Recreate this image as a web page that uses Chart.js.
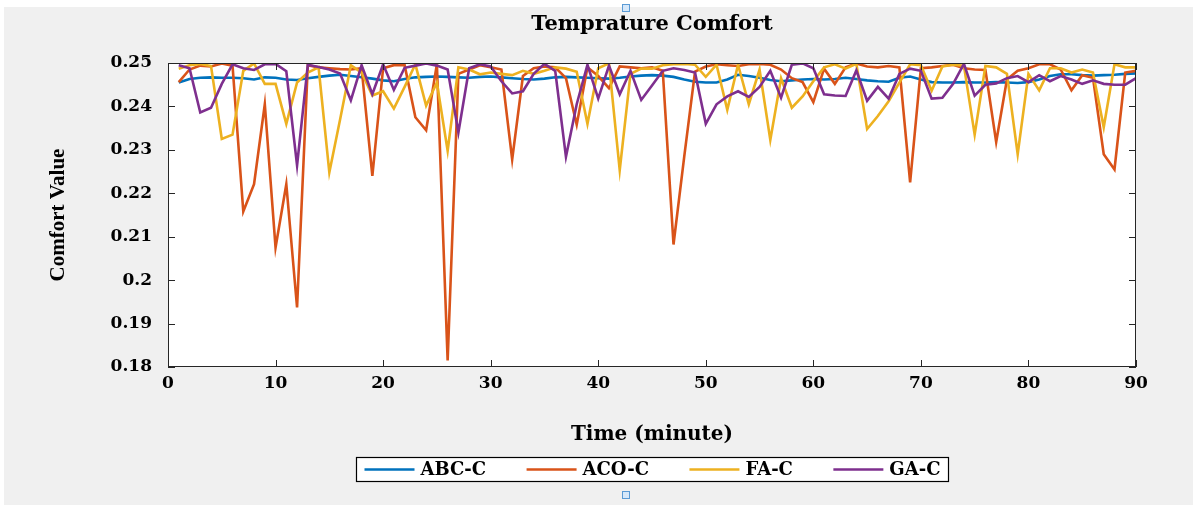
<!DOCTYPE html>
<html>
<head>
<meta charset="utf-8">
<title>Temprature Comfort</title>
<script src="https://cdn.jsdelivr.net/npm/chart.js@4.4.1/dist/chart.umd.min.js"></script>
<style>
  html, body { margin: 0; padding: 0; background: #fff; }
  #wrap { width: 1197px; height: 514px; }
</style>
</head>
<body>
<div id="wrap"><canvas id="chartLine" width="1197" height="514"></canvas></div>
<script>
// time axis (minutes)
var minutes = [1,2,3,4,5,6,7,8,9,10,11,12,13,14,15,16,17,18,19,20,
  21,22,23,24,25,26,27,28,29,30,31,32,33,34,35,36,37,38,39,40,
  41,42,43,44,45,46,47,48,49,50,51,52,53,54,55,56,57,58,59,60,
  61,62,63,64,65,66,67,68,69,70,71,72,73,74,75,76,77,78,79,80,
  81,82,83,84,85,86,87,88,89,90];

var seriesNames = ['ABC-C', 'ACO-C', 'FA-C', 'GA-C'];

var abcC = [0.2455,0.2463,0.2466,0.2467,0.2466,0.2466,0.2465,0.2462,0.2467,0.2466,
  0.2462,0.2461,0.2465,0.2468,0.2471,0.2473,0.2470,0.2467,0.2464,0.2460,
  0.2458,0.2463,0.2467,0.2468,0.2469,0.2468,0.2467,0.2466,0.2468,0.2469,
  0.2467,0.2465,0.2463,0.2462,0.2464,0.2467,0.2468,0.2467,0.2466,0.2465,
  0.2464,0.2466,0.2469,0.2471,0.2472,0.2471,0.2468,0.2462,0.2457,0.2455,
  0.2455,0.2462,0.2473,0.2470,0.2466,0.2461,0.2458,0.2460,0.2462,0.2463,
  0.2462,0.2463,0.2466,0.2463,0.2460,0.2458,0.2457,0.2466,0.2469,0.2462,
  0.2456,0.2455,0.2455,0.2456,0.2455,0.2455,0.2456,0.2455,0.2454,0.2456,
  0.2462,0.2470,0.2474,0.2474,0.2472,0.2471,0.2472,0.2473,0.2475,0.2476];

var acoC = [0.2456,0.2485,0.2494,0.2492,0.2499,0.2494,0.2158,0.2221,0.2405,0.2075,
  0.2221,0.1937,0.2495,0.2490,0.2488,0.2486,0.2485,0.2488,0.2240,0.2488,
  0.2495,0.2495,0.2375,0.2345,0.2497,0.1815,0.2475,0.2485,0.2495,0.2490,
  0.2485,0.2278,0.2470,0.2488,0.2492,0.2490,0.2465,0.2358,0.2490,0.2470,
  0.2442,0.2492,0.2490,0.2488,0.2490,0.2482,0.2082,0.2285,0.2480,0.2492,
  0.2497,0.2495,0.2493,0.2497,0.2498,0.2496,0.2485,0.2465,0.2456,0.2410,
  0.2487,0.2452,0.2490,0.2499,0.2492,0.2490,0.2493,0.2490,0.2225,0.2488,
  0.2490,0.2493,0.2496,0.2488,0.2485,0.2484,0.2318,0.2462,0.2482,0.2488,
  0.2497,0.2497,0.2485,0.2437,0.2472,0.2466,0.2290,0.2255,0.2478,0.2482];

var faC = [0.2487,0.2495,0.2498,0.2493,0.2325,0.2335,0.2482,0.2499,0.2452,0.2452,
  0.2360,0.2455,0.2478,0.2490,0.2248,0.2370,0.2495,0.2478,0.2425,0.2435,
  0.2395,0.2445,0.2497,0.2402,0.2455,0.2298,0.2490,0.2485,0.2474,0.2478,
  0.2475,0.2472,0.2482,0.2475,0.2482,0.2490,0.2487,0.2480,0.2360,0.2488,
  0.2499,0.2253,0.2475,0.2487,0.2487,0.2495,0.2497,0.2498,0.2496,0.2468,
  0.2496,0.2392,0.2496,0.2405,0.2485,0.2323,0.2465,0.2397,0.2423,0.2458,
  0.2490,0.2497,0.2487,0.2498,0.2348,0.2378,0.2412,0.2455,0.2497,0.2495,
  0.2436,0.2492,0.2496,0.2494,0.2335,0.2493,0.2490,0.2475,0.2290,0.2475,
  0.2437,0.2488,0.2488,0.2478,0.2485,0.2478,0.2352,0.2497,0.2490,0.2490];

var gaC = [0.2495,0.2488,0.2386,0.2397,0.2452,0.2497,0.2488,0.2484,0.2497,0.2498,
  0.2481,0.2264,0.2496,0.2491,0.2485,0.2476,0.2414,0.2495,0.2428,0.2497,
  0.2438,0.2489,0.2494,0.2499,0.2494,0.2485,0.2340,0.2488,0.2497,0.2492,
  0.2458,0.2430,0.2435,0.2475,0.2498,0.2482,0.2284,0.2405,0.2496,0.2418,
  0.2494,0.2428,0.2482,0.2415,0.2448,0.2482,0.2488,0.2484,0.2478,0.2360,
  0.2405,0.2423,0.2435,0.2422,0.2445,0.2482,0.2420,0.2496,0.2499,0.2488,
  0.2428,0.2425,0.2424,0.2483,0.2413,0.2445,0.2418,0.2475,0.2487,0.2482,
  0.2418,0.2420,0.2452,0.2498,0.2425,0.2450,0.2453,0.2465,0.2470,0.2456,
  0.2472,0.2458,0.2470,0.2462,0.2452,0.2460,0.2452,0.2450,0.2450,0.2465];

var xTickLabels = ['0','10','20','30','40','50','60','70','80','90'];
var yTickLabels = ['0.18','0.19','0.2','0.21','0.22','0.23','0.24','0.25'];

var colors = ['#0072BD', '#D95319', '#EDB120', '#7E2F8E'];

function toPoints(values) {
  return values.map(function (v, i) { return { x: minutes[i], y: v }; });
}

function makeSet(idx, values) {
  return {
    label: seriesNames[idx],
    data: toPoints(values),
    borderColor: colors[idx],
    backgroundColor: colors[idx],
    borderWidth: 2.6,
    pointRadius: 0,
    lineTension: 0,
    fill: false,
    order: 4 - idx
  };
}

var tickFont = { family: 'DejaVu Serif', weight: 'bold', size: 17 };

// frame, inside ticks, title, legend box
var matlabLook = {
  id: 'matlabLook',
  beforeDraw: function (chart) {
    var ctx = chart.ctx, a = chart.chartArea;
    ctx.save();
    ctx.fillStyle = '#ffffff';
    ctx.fillRect(0, 0, chart.width, chart.height);
    ctx.fillStyle = '#f0f0f0';
    ctx.fillRect(4, 7, chart.width - 8, 498);
    ctx.fillStyle = '#ffffff';
    ctx.fillRect(a.left, a.top, a.right - a.left, a.bottom - a.top);
    ctx.restore();
  },
  afterDraw: function (chart) {
    var ctx = chart.ctx, a = chart.chartArea;
    var xs = chart.scales.x, ys = chart.scales.y;
    ctx.save();
    ctx.strokeStyle = '#262626';
    ctx.lineWidth = 1;
    ctx.strokeRect(a.left + 0.5, a.top + 0.5, a.right - a.left - 1, a.bottom - a.top - 1);
    ctx.beginPath();
    xs.ticks.forEach(function (t) {
      var px = Math.round(xs.getPixelForValue(t.value)) + 0.5;
      ctx.moveTo(px, a.bottom); ctx.lineTo(px, a.bottom - 7);
      ctx.moveTo(px, a.top); ctx.lineTo(px, a.top + 7);
    });
    ys.ticks.forEach(function (t) {
      var py = Math.round(ys.getPixelForValue(t.value)) + 0.5;
      ctx.moveTo(a.left, py); ctx.lineTo(a.left + 7, py);
      ctx.moveTo(a.right, py); ctx.lineTo(a.right - 7, py);
    });
    ctx.stroke();

    // title
    var cx = (a.left + a.right) / 2;
    ctx.fillStyle = '#000';
    ctx.font = 'bold 21px "DejaVu Serif"';
    ctx.textAlign = 'center';
    ctx.textBaseline = 'middle';
    ctx.fillText('Temprature Comfort', cx, 25);

    // legend
    var boxW = 592, boxH = 24, boxL = Math.round(cx - boxW / 2) + 0.5, boxT = 457.5;
    ctx.fillStyle = '#fff';
    ctx.fillRect(boxL, boxT, boxW, boxH);
    ctx.strokeStyle = '#000';
    ctx.lineWidth = 1.2;
    ctx.strokeRect(boxL, boxT, boxW, boxH);
    ctx.font = 'bold 18px "DejaVu Serif"';
    ctx.textAlign = 'left';
    var lineLen = 50, gapIn = 6, padL = 8;
    var sets = chart.data.datasets;
    var textW = sets.map(function (d) { return ctx.measureText(d.label).width; });
    var total = textW.reduce(function (s, w) { return s + w; }, 0) + sets.length * (lineLen + gapIn);
    var gap = (boxW - 2 * padL - total) / (sets.length - 1);
    var x = boxL + padL, my = boxT + boxH / 2;
    sets.forEach(function (d, i) {
      ctx.strokeStyle = d.borderColor;
      ctx.lineWidth = 2.6;
      ctx.beginPath();
      ctx.moveTo(x, my); ctx.lineTo(x + lineLen, my);
      ctx.stroke();
      ctx.fillStyle = '#000';
      ctx.fillText(d.label, x + lineLen + gapIn, my + 1);
      x += lineLen + gapIn + textW[i] + gap;
    });

    // selection handles
    ctx.fillStyle = '#d6e8fa';
    ctx.strokeStyle = '#5b9bd5';
    ctx.lineWidth = 1;
    [[622.5, 4.5], [622.5, 491.5]].forEach(function (p) {
      ctx.fillRect(p[0], p[1], 7, 7);
      ctx.strokeRect(p[0], p[1], 7, 7);
    });
    ctx.restore();
  }
};

var ctx = document.getElementById('chartLine').getContext('2d');
var chartLine = new Chart(ctx, {
  type: 'line',
  data: {
    datasets: [makeSet(0, abcC), makeSet(1, acoC), makeSet(2, faC), makeSet(3, gaC)]
  },
  options: {
    responsive: false,
    animation: false,
    layout: { padding: { top: 63, right: 61, bottom: 47, left: 0 } },
    plugins: {
      legend: { display: false },
      title: { display: false },
      tooltip: { enabled: false }
    },
    scales: {
      x: {
        type: 'linear',
        min: 0,
        max: 90,
        afterFit: function (scale) { scale.height = 100; },
        grid: { display: false, drawTicks: false },
        border: { display: false },
        ticks: {
          stepSize: 10,
          padding: 6,
          maxRotation: 0,
          color: '#000',
          font: tickFont,
          callback: function (v) { return xTickLabels[Math.round(v / 10)]; }
        },
        title: {
          display: true,
          text: 'Time (minute)',
          color: '#000',
          font: { family: 'DejaVu Serif', weight: 'bold', size: 20 },
          padding: { top: 0, bottom: 20 }
        }
      },
      y: {
        min: 0.18,
        max: 0.25,
        afterFit: function (scale) { scale.width = 168; },
        grid: { display: false, drawTicks: false },
        border: { display: false },
        ticks: {
          stepSize: 0.01,
          padding: 16,
          color: '#000',
          font: tickFont,
          callback: function (v) { return yTickLabels[Math.round((v - 0.18) * 100)]; }
        },
        title: {
          display: true,
          text: 'Comfort Value',
          color: '#000',
          font: { family: 'Liberation Serif', weight: 'bold', size: 21 },
          padding: { top: 46, bottom: 0 }
        }
      }
    }
  },
  plugins: [matlabLook]
});
</script>
</body>
</html>
